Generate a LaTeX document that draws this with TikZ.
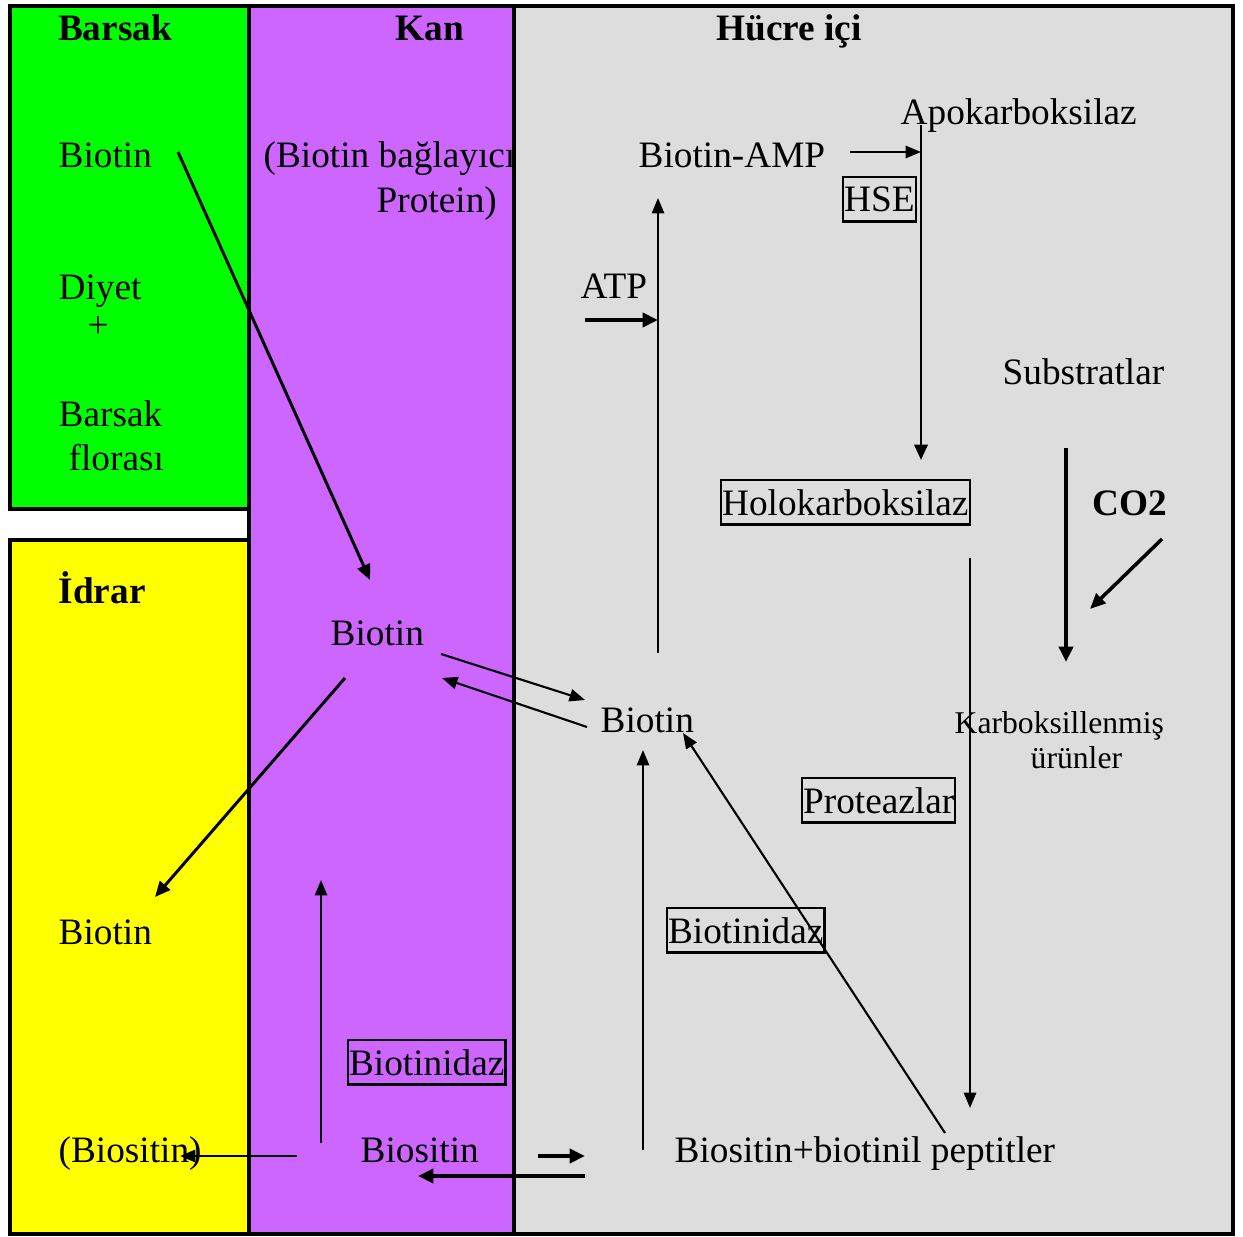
\documentclass[tikz,border=0pt]{standalone}
\usepackage{fontspec}
\setmainfont{Liberation Serif}
\usetikzlibrary{arrows.meta}
\definecolor{bargreen}{HTML}{00FF00}
\definecolor{kanpurple}{HTML}{CC66FF}
\definecolor{idraryellow}{HTML}{FFFF00}
\definecolor{cellgray}{HTML}{DDDDDD}

\begin{document}
\begin{tikzpicture}[x=0.01cm,y=-0.01cm,
    every node/.style={font=\fontsize{10.6}{12}\selectfont, inner sep=0pt},
    lbl/.style={anchor=base west},
    small/.style={anchor=base west, font=\fontsize{9}{10}\selectfont},
    head/.style={anchor=base, font=\fontsize{10.6}{12}\selectfont\bfseries},
    enzbox/.style={anchor=base west, draw, line width=0.6pt, inner xsep=0.3pt,
        inner ysep=2.7pt, text height=7.2pt, text depth=0pt},
    thinarr/.style={line width=0.6pt, -{Triangle[length=4.4pt,width=3.5pt]}},
    medarr/.style={line width=0.85pt, -{Triangle[length=4.4pt,width=3.8pt]}},
    thickarr/.style={line width=1.15pt, -{Triangle[length=4.4pt,width=4pt]}},
    panel/.style={draw=black, line width=0.9pt}]

    \useasboundingbox (0,0) rectangle (1243,1237);

    % panels
    \fill[cellgray] (514,6) rectangle (1233,1234);
    \fill[kanpurple] (249,6) rectangle (514,1234);
    \fill[bargreen] (10,6) rectangle (249,509);
    \fill[idraryellow] (10,540) rectangle (249,1234);
    \draw[panel] (10,6) rectangle (249,509);
    \draw[panel] (10,540) rectangle (249,1234);
    \draw[panel] (249,6) rectangle (514,1234);
    \draw[panel] (514,6) rectangle (1233,1234);

    % headings
    \node[head] (hbarsak) at (115,41) {Barsak};
    \node[head] (hkan) at (430,41) {Kan};
    \node[head] (hcell) at (789,41) {Hücre içi};
    \node[head, anchor=base west] (hidrar) at (58,603) {İdrar};

    % Barsak
    \node[lbl] (bBiotin) at (58,168) {Biotin};
    \node[lbl] (diyet) at (58,300) {Diyet};
    \node[lbl] (plus) at (87,338) {+};
    \node[lbl] (flora1) at (58,427) {Barsak};
    \node[lbl] (flora2) at (68,471) {florası};

    % Kan
    \begin{scope}
        \clip (249,6) rectangle (514,1234);
        \node[lbl] (bagl) at (263,168) {(Biotin bağlayıcı};
    \end{scope}
    \node[lbl] (prot) at (376,213) {Protein)};
    \node[lbl] (kBiotin) at (330,645) {Biotin};
    \node[enzbox] (kBtd) at (347,1075) {Biotinidaz};
    \node[lbl] (kBiositin) at (360,1162) {Biositin};

    % Idrar
    \node[lbl] (iBiotin) at (58,944) {Biotin};
    \node[lbl] (iBiositin) at (58,1162) {(Biositin)};

    % Hucre ici
    \node[lbl] (amp) at (638,168) {Biotin-AMP};
    \node[lbl] (apo) at (900,125) {Apokarboksilaz};
    \node[enzbox] (hse) at (842,212) {HSE};
    \node[lbl] (atp) at (580,299) {ATP};
    \node[lbl] (subs) at (1002,385) {Substratlar};
    \node[enzbox] (holo) at (720,515) {Holokarboksilaz};
    \node[head, anchor=base west] (co2) at (1092,515) {CO2};
    \node[lbl] (cBiotin) at (600,732) {Biotin};
    \node[small] (karb1) at (954,733) {Karboksillenmiş};
    \node[small] (karb2) at (1030,768) {ürünler};
    \node[enzbox] (prtz) at (801,813) {Proteazlar};
    \node[enzbox] (cBtd) at (666,943) {Biotinidaz};
    \node[lbl] (pept) at (674,1162) {Biositin+biotinil peptitler};

    % arrow ends
    \coordinate (a1) at (178,152);   \coordinate (a2) at (370,580);
    \coordinate (b1) at (345,678);   \coordinate (b2) at (155,897);
    \coordinate (c1) at (441,654);   \coordinate (c2) at (585,700);
    \coordinate (d1) at (587,727);   \coordinate (d2) at (442,678);
    \coordinate (e1) at (658,653);   \coordinate (e2) at (658,198);
    \coordinate (f1) at (585,320);   \coordinate (f2) at (658,320);
    \coordinate (g1) at (850,152);   \coordinate (g2) at (921,152);
    \coordinate (h1) at (921,125);   \coordinate (h2) at (921,460);
    \coordinate (s1) at (1066,448);  \coordinate (s2) at (1066,662);
    \coordinate (k1) at (1162,539);  \coordinate (k2) at (1090,609);
    \coordinate (p1) at (970,558);   \coordinate (p2) at (970,1108);
    \coordinate (q1) at (945,1133);  \coordinate (q2) at (683,733);
    \coordinate (r1) at (643,1150);  \coordinate (r2) at (643,750);
    \coordinate (t1) at (297,1156);  \coordinate (t2) at (180,1156);
    \coordinate (u1) at (321,1143);  \coordinate (u2) at (321,880);
    \coordinate (v1) at (538,1156);  \coordinate (v2) at (585,1156);
    \coordinate (w1) at (585,1176);  \coordinate (w2) at (418,1176);

    \draw[medarr] (a1) -- (a2);
    \draw[medarr] (b1) -- (b2);
    \draw[thinarr] (c1) -- (c2);
    \draw[thinarr] (d1) -- (d2);
    \draw[thinarr] (e1) -- (e2);
    \draw[thickarr] (f1) -- (f2);
    \draw[thinarr] (g1) -- (g2);
    \draw[medarr, line width=0.75pt] (h1) -- (h2);
    \draw[thickarr] (s1) -- (s2);
    \draw[medarr, line width=1pt] (k1) -- (k2);
    \draw[thinarr] (p1) -- (p2);
    \draw[thinarr] (q1) -- (q2);
    \draw[thinarr] (r1) -- (r2);
    \draw[thinarr, line width=0.75pt] (t1) -- (t2);
    \draw[thinarr] (u1) -- (u2);
    \draw[thickarr] (v1) -- (v2);
    \draw[thickarr] (w1) -- (w2);

\end{tikzpicture}
\end{document}
